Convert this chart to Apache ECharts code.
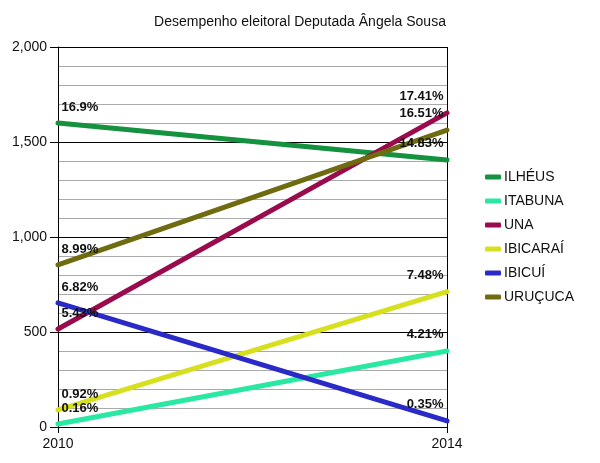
<!DOCTYPE html>
<html>
<head>
<meta charset="utf-8">
<script src="https://cdn.jsdelivr.net/npm/echarts@6/dist/echarts.min.js"></script>
<style>
  html, body { margin: 0; padding: 0; background: #fff; }
  #chart { width: 600px; height: 463px; }
</style>
</head>
<body>
<div id="chart"></div>
<script>
var years = ['2010', '2014'];
var names = ['ILHÉUS', 'ITABUNA', 'UNA', 'IBICARAÍ', 'IBICUÍ', 'URUÇUCA'];
var colors = ['#15923f', '#28e8a2', '#990b4c', '#d7e01f', '#2a2ac8', '#6f6b10'];

var ilheus = [1600, 1405];
var itabuna = [16, 400];
var una = [516, 1653];
var ibicarai = [90, 712];
var ibicui = [653, 32];
var urucuca = [853, 1563];

var ilheusPct = ['16.9%', '14.83%'];
var itabunaPct = ['0.16%', '4.21%'];
var unaPct = ['5.43%', '17.41%'];
var ibicaraiPct = ['0.92%', '7.48%'];
var ibicuiPct = ['6.82%', '0.35%'];
var urucucaPct = ['8.99%', '16.51%'];

var values = [ilheus, itabuna, una, ibicarai, ibicui, urucuca];
var pcts = [ilheusPct, itabunaPct, unaPct, ibicaraiPct, ibicuiPct, urucucaPct];

var font = 'Liberation Sans, Arial, sans-serif';

var dom = document.getElementById('chart');
var myChart = echarts.init(dom);

function buildData(vals, labels) {
    return vals.map(function (v, i) {
        return {
            value: v,
            label: {
                show: true,
                formatter: labels[i],
                position: i === 0 ? [4, -15] : [-3, -16],
                align: i === 0 ? 'left' : 'right',
                verticalAlign: 'middle',
                fontFamily: font,
                fontWeight: 'bold',
                fontSize: 13,
                color: '#111'
            }
        };
    });
}

var series = names.map(function (n, k) {
    return {
        name: n,
        type: 'line',
        data: buildData(values[k], pcts[k]),
        symbol: 'circle',
        symbolSize: 1,
        lineStyle: { width: 5, color: colors[k], cap: 'round' },
        itemStyle: { color: colors[k] },
        animation: false
    };
});

var option = {
    color: colors,
    title: {
        text: 'Desempenho eleitoral Deputada Ângela Sousa',
        left: 'center',
        top: 10,
        textStyle: {
            fontFamily: font,
            fontWeight: 'normal',
            fontSize: 14,
            color: '#111'
        }
    },
    legend: {
        orient: 'vertical',
        left: 480,
        top: 165,
        itemGap: 10,
        itemWidth: 16,
        itemHeight: 5,
        icon: 'roundRect',
        data: names,
        textStyle: {
            fontFamily: font,
            fontSize: 14,
            color: '#111',
            padding: [0, 0, 0, -2]
        }
    },
    grid: {
        left: 58,
        right: 153,
        top: 47,
        bottom: 36
    },
    xAxis: {
        type: 'category',
        data: years,
        boundaryGap: false,
        axisLine: { lineStyle: { color: '#000', width: 1 } },
        axisTick: { show: true, length: 6, lineStyle: { color: '#000' } },
        axisLabel: {
            fontFamily: font,
            fontSize: 14,
            color: '#111',
            margin: 10
        },
        splitLine: { show: true, lineStyle: { color: '#000', width: 1 } }
    },
    yAxis: {
        type: 'value',
        min: 0,
        max: 2000,
        interval: 500,
        axisLine: { show: true, lineStyle: { color: '#000', width: 1 } },
        axisTick: { show: true, length: 8, lineStyle: { color: '#000' } },
        axisLabel: {
            fontFamily: font,
            fontSize: 14,
            color: '#111',
            margin: 11,
            formatter: function (v) { return v.toLocaleString('en-US'); }
        },
        splitLine: { show: true, lineStyle: { color: '#000', width: 1 } },
        minorTick: { show: false, splitNumber: 5 },
        minorSplitLine: { show: true, lineStyle: { color: '#aaa', width: 1 } }
    },
    series: series
};

if (option && typeof option === 'object') {
    myChart.setOption(option, true);
}
</script>
</body>
</html>
